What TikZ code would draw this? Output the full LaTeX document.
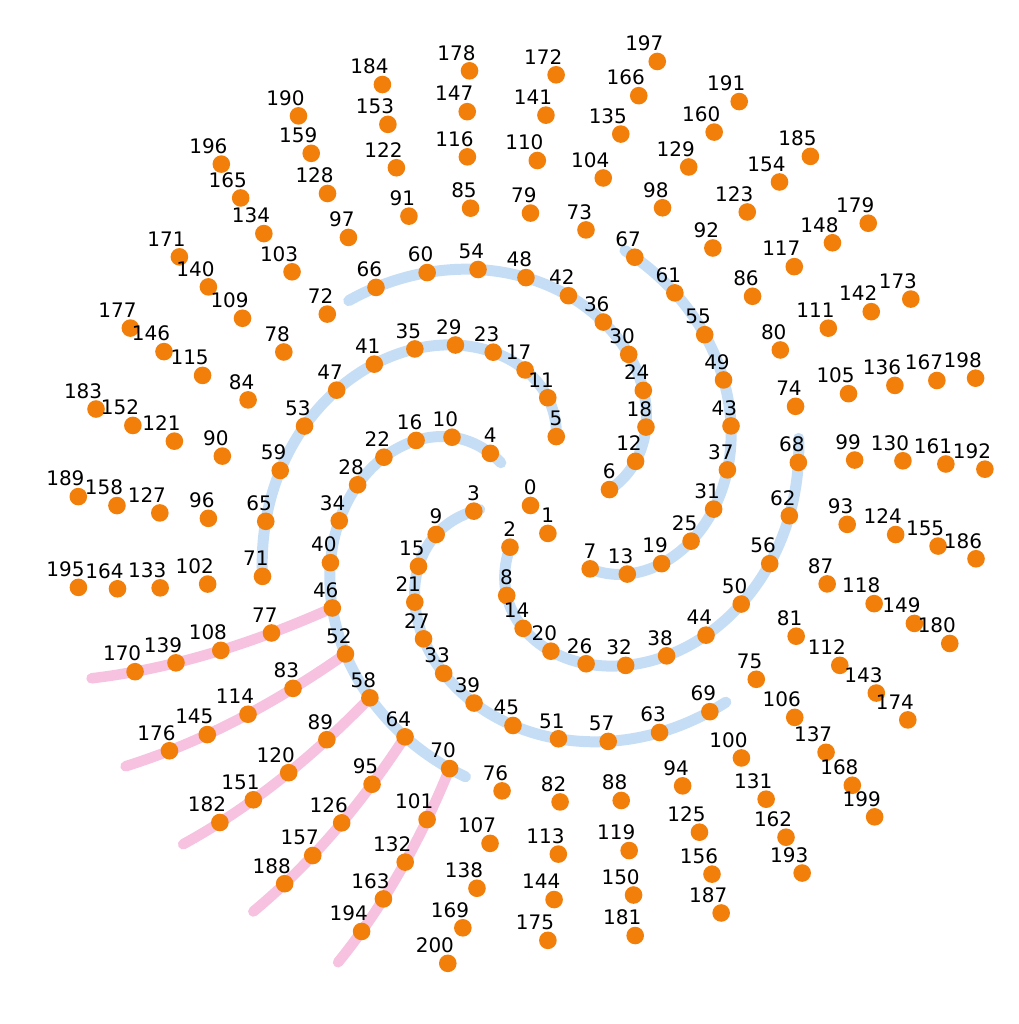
\documentclass[tikz,border=0pt]{standalone}
\usepackage{fontspec}
\setmainfont{DejaVu Sans}
\usepackage{tikz}
\usetikzlibrary{calc}
\definecolor{cDot}{RGB}{242,127,10}
\definecolor{cArm}{RGB}{197,222,246}
\definecolor{cRay}{RGB}{246,194,224}
\newcommand{\stepang}{58.1012}
\newcommand{\rscale}{32.9}
\tikzset{
  dot/.style={circle,fill=cDot,inner sep=0pt,minimum size=17.6bp},
  numlbl/.style={anchor=base east,inner sep=0pt,font=\fontsize{20bp}{24bp}\selectfont},
  arm/.style={cArm,line width=11bp,line cap=round},
  ray/.style={cRay,line width=10.5bp,line cap=round}
}

\begin{document}
\begin{tikzpicture}[x=1bp,y=1bp]
  \useasboundingbox[fill=white] (0,0) rectangle (1019,1024);
  \begin{scope}[shift={(530.5,518.5)}]
  % spiral arms, n mod 6
  \foreach \c/\a/\b in {0/6/69.3,1/7/68.3,2/2/70.6,3/2.4/71,4/2.5/71.9,5/5/71.1} {
    \draw[arm] plot[domain=\a:\b,samples=150,smooth,variable=\t]
      ({-\stepang*\c+1.8988*(\t-\c)}:{\rscale*sqrt(\t)});
  }
  % rays, n mod 31
  \foreach \c/\b in {46/205.6,52/214.3,58/217.5,64/223.3,70/227} {
    \draw[ray] plot[domain=\c:\b,samples=80,smooth,variable=\t]
      ({-\stepang*\c-0.036684*(\t-\c)}:{\rscale*sqrt(\t)});
  }
  % points
  \foreach \n in {0,...,200} {
    \node[dot] (n\n) at ({-\stepang*\n}:{\rscale*sqrt(\n)}) {};
  }
  \foreach \n in {0,...,200} {
    \node[numlbl] (l\n) at ([shift={(6.35,10.7)}]n\n.center) {\n};
  }
  \end{scope}
\end{tikzpicture}
\end{document}
